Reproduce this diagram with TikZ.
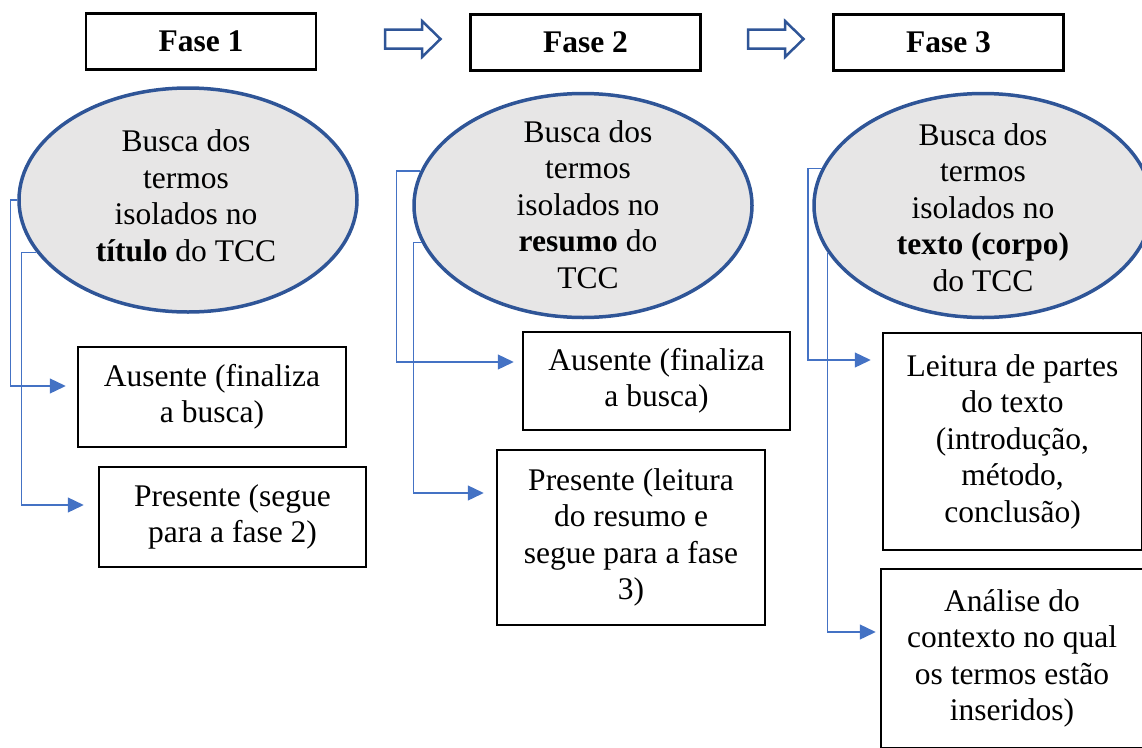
\documentclass[tikz,border=0pt]{standalone}
\usepackage{fontspec}
\setmainfont{Liberation Serif}
\newfontfamily\tnr{Liberation Serif}
\usetikzlibrary{arrows.meta,shapes.geometric}
\definecolor{ellborder}{HTML}{2F5597}
\definecolor{ellfill}{HTML}{E7E6E6}
\definecolor{connblue}{HTML}{4472C4}
\tikzset{
  bigfont/.style={font=\tnr\fontsize{31.5}{36.5}\selectfont},
  txt/.style={bigfont, align=center, inner sep=0pt},
  fasebox/.style={draw=black, line width=2.5pt, minimum width=230pt, minimum height=56pt,
    inner sep=0pt, font=\tnr\fontsize{31.5}{36.5}\selectfont\bfseries},
  ell/.style={ellipse, draw=ellborder, line width=3.5pt, fill=ellfill,
    minimum width=338pt, minimum height=224pt, inner sep=0pt},
  box/.style={draw=black, line width=2.5pt, txt},
  conn/.style={draw=connblue, line width=1.3pt, -{Triangle[length=16pt,width=15pt]}},
  blockarrow/.style={draw=ellborder, line width=2.5pt, fill=white, line join=miter}
}
\begin{document}
\begin{tikzpicture}[x=1pt,y=-1pt]
\useasboundingbox (0,0) rectangle (1142,747);
\clip (0,0) rectangle (1142,747);

% phase header boxes
\node[fasebox] (f1) at (201,41.5) {Fase 1};
\node[fasebox] (f2) at (585.5,42.5) {Fase 2};
\node[fasebox] (f3) at (948.5,42.5) {Fase 3};

% block arrows
\draw[blockarrow] (385,29.5) -- (422,29.5) -- (422,21) -- (440.5,39) -- (422,57) -- (422,48.5) -- (385,48.5) -- cycle;
\draw[blockarrow] (748,29.5) -- (785,29.5) -- (785,21) -- (803.5,39) -- (785,57) -- (785,48.5) -- (748,48.5) -- cycle;

% ellipses
\node[ell] (e1) at (188,200) {};
\node[ell] (e2) at (583,205.5) {};
\node[ell] (e3) at (983,205.5) {};
\node[txt] (e1t) at (186,196) {Busca dos\\termos\\isolados no\\\textbf{título} do TCC};
\node[txt] (e2t) at (588,204.5) {Busca dos\\termos\\isolados no\\\textbf{resumo} do\\TCC};
\node[txt] (e3t) at (983,207.5) {Busca dos\\termos\\isolados no\\\textbf{texto (corpo)}\\do TCC};

% result boxes
\node[box, minimum width=268pt, minimum height=100pt] (a1) at (212,397) {Ausente (finaliza\\a busca)};
\node[box, minimum width=267pt, minimum height=100pt] (p1) at (232.5,517) {Presente (segue\\para a fase 2)};
\node[box, minimum width=267pt, minimum height=98pt] (a2) at (656.5,381) {Ausente (finaliza\\a busca)};
\node[box, minimum width=268pt, minimum height=175pt] (p2) at (631,537.5) {Presente (leitura\\do resumo e\\segue para a fase\\3)};
\node[box, minimum width=259pt, minimum height=217pt] (l3) at (1012.5,441.5) {Leitura de partes\\do texto\\(introdução,\\método,\\conclusão)};
\node[box, minimum width=262pt, minimum height=179pt] (n3) at (1012,658.5) {Análise do\\contexto no qual\\os termos estão\\inseridos)};

% connectors
\draw[conn] (e1.west) -- ++(-7,0) |- ([xshift=-11pt,yshift=11pt]a1.west);
\draw[conn] (e1.199) -- ++(-15,0) |- ([xshift=-14pt,yshift=12pt]p1.west);
\draw[conn] (e2.168) -- ++(-24,0) |- ([xshift=-8pt,yshift=19pt]a2.west);
\draw[conn] (e2.193.6) -- ++(-8,0) |- ([xshift=-12pt,yshift=44.5pt]p2.west);
\draw[conn] (e3.167.5) -- ++(-13.7,0) |- ([xshift=-11pt,yshift=81.5pt]l3.west);
\draw[conn] (e3.197.35) |- ([xshift=-4pt,yshift=26.5pt]n3.west);
\end{tikzpicture}
\end{document}
